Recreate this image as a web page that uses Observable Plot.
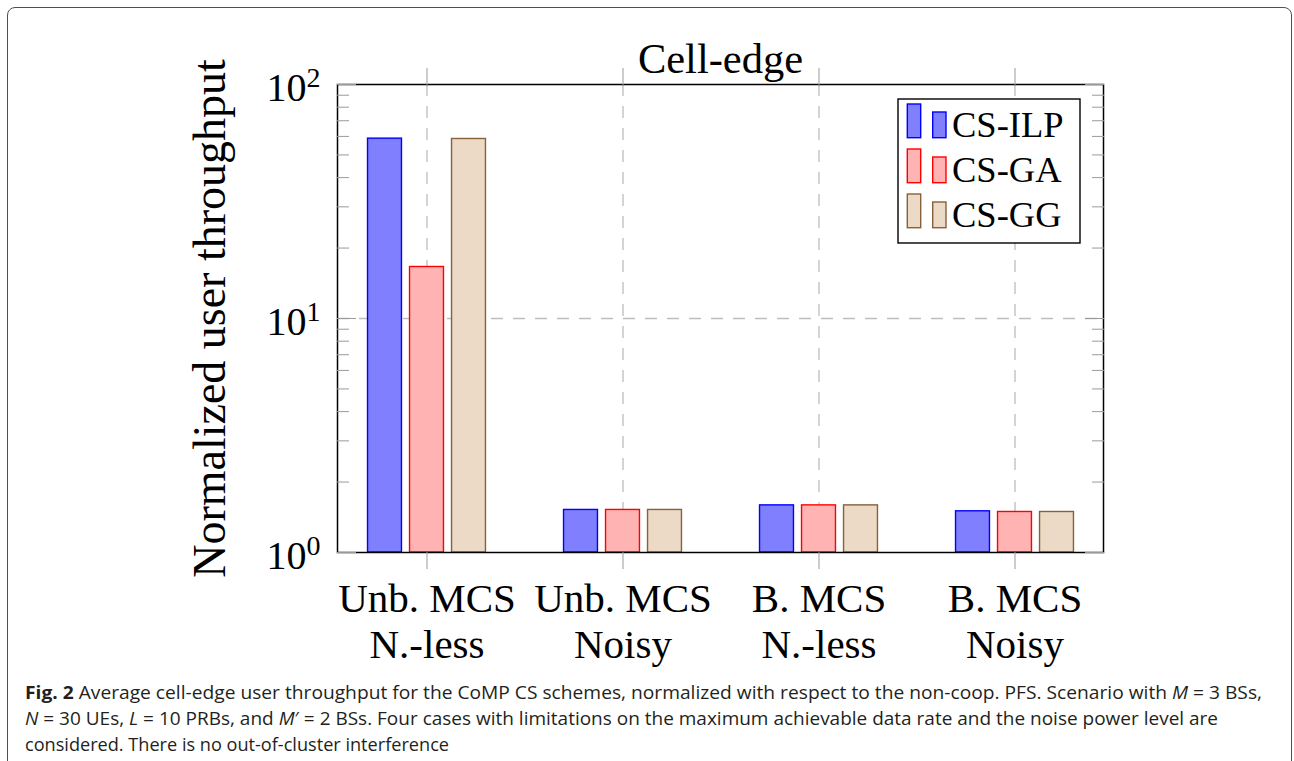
<!DOCTYPE html>
<html><head><meta charset="utf-8">
<script src="https://cdn.jsdelivr.net/npm/d3@7"></script>
<script src="https://cdn.jsdelivr.net/npm/@observablehq/plot@0.6"></script>
<style>
body{margin:0;background:#fff;width:1294px;height:761px;overflow:hidden;position:relative;}
#box{position:absolute;left:7px;top:7px;width:1285px;height:820px;border:1.5px solid #505050;border-radius:8px;box-sizing:border-box;}
#chart{position:absolute;left:0;top:0;}
#caption{position:absolute;left:25px;top:679px;font-family:"Open Sans",sans-serif;font-size:17.5px;line-height:26px;color:#231f20;white-space:nowrap;}
#caption .line{display:block;width:max-content;transform-origin:0 50%;}
</style></head><body>
<div id="box"></div>
<div id="chart"></div>
<div id="caption">
<span class="line" data-w="1237"><b>Fig. 2</b> Average cell-edge user throughput for the CoMP CS schemes, normalized with respect to the non-coop. PFS. Scenario with <i>M</i> = 3 BSs,</span>
<span class="line" data-w="1193"><i>N</i> = 30 UEs, <i>L</i> = 10 PRBs, and <i>M</i>′ = 2 BSs. Four cases with limitations on the maximum achievable data rate and the noise power level are</span>
<span class="line" data-w="424">considered. There is no out-of-cluster interference</span>
</div>
<script>
// ---- data ----
const categories = ["Unb. MCS\nN.-less", "Unb. MCS\nNoisy", "B. MCS\nN.-less", "B. MCS\nNoisy"];
const seriesNames = ["CS-ILP", "CS-GA", "CS-GG"];
const ilpValues = [58.7, 1.52, 1.59, 1.50];
const gaValues  = [16.6, 1.52, 1.59, 1.49];
const ggValues  = [58.5, 1.52, 1.59, 1.49];
const yMajorTicks = [1, 10, 100];
const yMinorTicks = [2, 3, 4, 5, 6, 7, 8, 9, 20, 30, 40, 50, 60, 70, 80, 90];
const titleText = "Cell-edge";
const yLabelText = "Normalized user throughput";

// ---- styles ----
const fills = ["#8080ff", "#ffb3b3", "#ecd9c6"];
const strokes = ["#0000ff", "#ff0000", "#86613a"];
const seriesValues = [ilpValues, gaValues, ggValues];

const rows = [];
seriesNames.forEach((s, i) => categories.forEach((c, j) => rows.push({cat: c, series: s, value: seriesValues[i][j]})));

const W = 1294, H = 672;
const ml = 337, mr = W - 1103, mt = 84, mb = H - 552;
const plotW = W - ml - mr;
const pIn = 0.098;
const step = plotW / (categories.length - pIn);
const bw = step * (1 - pIn);
const barW = 34, barStep = 42;
function insets(i) {
  const c = bw / 2 + (i - 1) * barStep;
  return {insetLeft: c - barW / 2, insetRight: bw - c - barW / 2};
}
const gridStyle = {stroke: "#bdbdbd", strokeOpacity: 1, strokeWidth: 1.3, strokeDasharray: "12,10"};
const tickStroke = "#9a9a9a";

const chart = Plot.plot({
  width: W, height: H,
  marginLeft: ml, marginRight: mr, marginTop: mt, marginBottom: mb,
  style: {fontFamily: "'Liberation Serif', serif", background: "transparent", color: "black"},
  x: {type: "band", domain: categories, paddingInner: pIn, paddingOuter: 0, label: null},
  y: {type: "log", domain: [1, 100], label: null},
  marks: [
    Plot.gridX(gridStyle),
    Plot.gridY([10], gridStyle),
    ...seriesNames.map((s, i) => Plot.barY(rows.filter(r => r.series === s), {
      x: "cat", y1: 1, y2: "value", fill: fills[i], stroke: strokes[i], strokeWidth: 1.4, ...insets(i)
    })),
    Plot.frame({stroke: "black", strokeWidth: 1.5}),
    Plot.axisX({anchor: "bottom", tickSize: 17, stroke: tickStroke, fill: "black", fontSize: 41, tickPadding: 10, lineHeight: 1.12, label: null}),
    Plot.axisX({anchor: "top", tickSize: 17, stroke: tickStroke, fill: "none", label: null}),
    Plot.axisY(yMinorTicks, {anchor: "left", tickSize: 12, dx: 12, stroke: tickStroke, fill: "none", label: null}),
    Plot.axisY(yMinorTicks, {anchor: "right", tickSize: 12, dx: -12, stroke: tickStroke, fill: "none", label: null}),
    Plot.axisY(yMajorTicks, {anchor: "left", tickSize: 19, dx: 19, stroke: tickStroke, fill: "none", label: null}),
    Plot.axisY(yMajorTicks, {anchor: "right", tickSize: 19, dx: -19, stroke: tickStroke, fill: "none", label: null}),
    Plot.axisY(yMajorTicks, {anchor: "left", tickSize: 0, tickPadding: 17, dy: 4, fontSize: 40, fill: "black",
      tickFormat: d => "10^" + Math.round(Math.log10(d)), label: null}),
    Plot.text([yLabelText], {frameAnchor: "left", textAnchor: "middle", rotate: -90, dx: -127, fontSize: 46, fill: "black"}),
    Plot.text([titleText], {frameAnchor: "top", dy: -42, fontSize: 42.5, fill: "black"})
  ]
});
document.getElementById("chart").appendChild(chart);

// superscripts on y tick labels
const svg = d3.select(chart);
svg.selectAll('g[aria-label="y-axis tick label"] text').each(function() {
  const t = this.textContent;
  if (!t.includes("^")) return;
  const [base, exp] = t.split("^");
  this.textContent = base;
  d3.select(this).append("tspan").attr("dy", -14).attr("font-size", 28).text(exp);
});

// legend (inside the plot, top right)
const lg = svg.append("g").attr("font-family", "'Liberation Serif', serif").attr("text-anchor", "start");
lg.append("rect").attr("x", 898).attr("y", 99).attr("width", 182).attr("height", 144)
  .attr("fill", "white").attr("stroke", "black").attr("stroke-width", 1.4);
seriesNames.forEach((s, i) => {
  const y0 = 104 + i * 45;
  lg.append("rect").attr("x", 907.3).attr("y", y0).attr("width", 13.4).attr("height", 33.7)
    .attr("fill", fills[i]).attr("stroke", strokes[i]).attr("stroke-width", 1.4);
  lg.append("rect").attr("x", 932.7).attr("y", y0 + 8).attr("width", 13.3).attr("height", 25.7)
    .attr("fill", fills[i]).attr("stroke", strokes[i]).attr("stroke-width", 1.4);
  lg.append("text").attr("x", 952).attr("y", y0 + 33).attr("font-size", 36.5).attr("fill", "black")
    .attr("text-anchor", "start").text(s);
});

// fit caption lines to their widths
document.querySelectorAll("#caption .line").forEach(el => {
  const w = el.getBoundingClientRect().width;
  const target = +el.dataset.w;
  el.style.transform = `scaleX(${target / w})`;
});
</script>
</body></html>
